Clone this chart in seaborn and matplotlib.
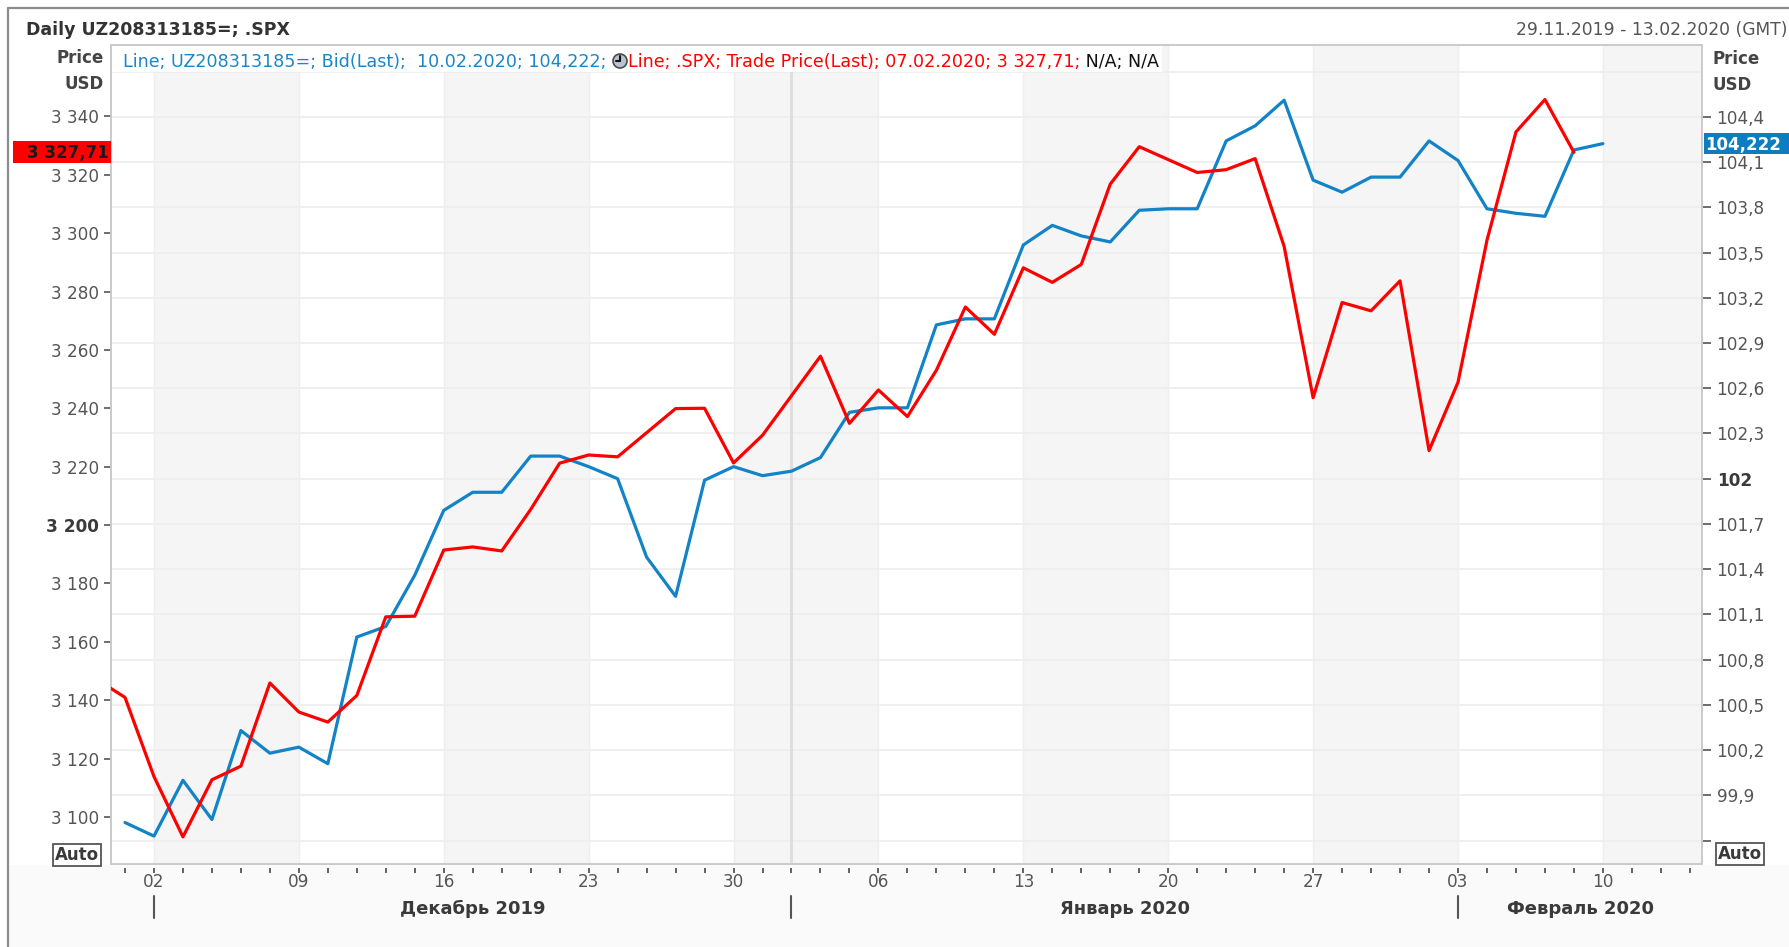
import numpy as np
import pandas as pd
import matplotlib
matplotlib.use("Agg")
import matplotlib.pyplot as plt
import seaborn as sns
from matplotlib.patches import Rectangle, Circle
from matplotlib.transforms import IdentityTransform, blended_transform_factory
from matplotlib.lines import Line2D

# ---------------- data ----------------
START_DATE = "2019-11-29"
RANGE_TEXT = "29.11.2019 - 13.02.2020 (GMT)"
TITLE = "Daily UZ208313185=; .SPX"

spx_dates = ["2019-11-27", "2019-11-29",
             "2019-12-02", "2019-12-03", "2019-12-04", "2019-12-05", "2019-12-06",
             "2019-12-09", "2019-12-10", "2019-12-11", "2019-12-12", "2019-12-13",
             "2019-12-16", "2019-12-17", "2019-12-18", "2019-12-19", "2019-12-20",
             "2019-12-23", "2019-12-24", "2019-12-26", "2019-12-27",
             "2019-12-30", "2019-12-31", "2020-01-02", "2020-01-03",
             "2020-01-06", "2020-01-07", "2020-01-08", "2020-01-09", "2020-01-10",
             "2020-01-13", "2020-01-14", "2020-01-15", "2020-01-16", "2020-01-17",
             "2020-01-21", "2020-01-22", "2020-01-23", "2020-01-24",
             "2020-01-27", "2020-01-28", "2020-01-29", "2020-01-30", "2020-01-31",
             "2020-02-03", "2020-02-04", "2020-02-05", "2020-02-06", "2020-02-07"]
spx_close = [3153.63, 3140.98,
             3113.87, 3093.20, 3112.76, 3117.43, 3145.91,
             3135.96, 3132.52, 3141.63, 3168.57, 3168.80,
             3191.45, 3192.52, 3191.14, 3205.37, 3221.22,
             3224.01, 3223.38, 3239.91, 3240.02,
             3221.29, 3230.78, 3257.85, 3234.85,
             3246.28, 3237.18, 3253.05, 3274.70, 3265.35,
             3288.13, 3283.15, 3289.29, 3316.81, 3329.62,
             3320.79, 3321.75, 3325.54, 3295.47,
             3243.63, 3276.24, 3273.40, 3283.66, 3225.52,
             3248.92, 3297.59, 3334.69, 3345.78, 3327.71]

bond_dates = list(pd.bdate_range("2019-11-29", "2020-02-10").strftime("%Y-%m-%d"))
bond_bid = [99.72, 99.63, 100.00, 99.74, 100.33, 100.18, 100.22, 100.11, 100.95, 101.02,
            101.36, 101.79, 101.91, 101.91, 102.15, 102.15, 102.08, 102.00, 101.48, 101.22,
            101.99, 102.08, 102.02, 102.05, 102.14, 102.44, 102.47, 102.47, 103.02, 103.06,
            103.06, 103.55, 103.68, 103.61, 103.57, 103.78, 103.79, 103.79, 104.24, 104.34,
            104.51, 103.98, 103.90, 104.00, 104.00, 104.24, 104.11, 103.79, 103.76, 103.74,
            104.18, 104.222]

left_ticks = [3100, 3120, 3140, 3160, 3180, 3200, 3220, 3240, 3260, 3280, 3300, 3320, 3340]
right_ticks = [99.6, 99.9, 100.2, 100.5, 100.8, 101.1, 101.4, 101.7, 102.0, 102.3,
               102.6, 102.9, 103.2, 103.5, 103.8, 104.1, 104.4]
grid_levels = right_ticks + [104.7]
monday_ticks = ["2019-12-02", "2019-12-09", "2019-12-16", "2019-12-23", "2019-12-30",
                "2020-01-06", "2020-01-13", "2020-01-20", "2020-01-27", "2020-02-03",
                "2020-02-10"]
shaded_weeks = ["2019-12-02", "2019-12-16", "2019-12-30", "2020-01-13", "2020-01-27",
                "2020-02-10"]
month_names = ["Декабрь 2019", "Январь 2020", "Февраль 2020"]
month_starts = ["2019-12-02", "2020-01-01", "2020-02-03"]
N_WEEKDAYS = 55  # 29.11.2019 .. 13.02.2020

# ---------------- style ----------------
W, H, DPI = 1789, 947, 100
BLUE = "#1183c6"
RED = "#ff0000"
TXT = "#555555"
DARK = "#3a3a3a"
FS = 12.2

sns.set_style("white")
plt.rcParams["font.family"] = ["DejaVu Sans"]


def idx(d):
    return int(np.busday_count(START_DATE, d))


def fmt_left(v):
    return f"{v:,.0f}".replace(",", " ")


def fmt_right(v):
    if abs(v - round(v)) < 1e-9:
        return str(int(round(v)))
    return f"{v:.1f}".replace(".", ",")


spx_df = pd.DataFrame({"x": [idx(d) for d in spx_dates], "price": spx_close})
bond_df = pd.DataFrame({"x": [idx(d) for d in bond_dates], "bid": bond_bid})

fig = plt.figure(figsize=(W / DPI, H / DPI), dpi=DPI)
fig.patch.set_facecolor("white")

L, R, T, B = 110.7, 1702.3, 45.0, 864.3
ax = fig.add_axes([L / W, 1 - B / H, (R - L) / W, (B - T) / H])
ax2 = ax.twinx()
ax.set_zorder(2)
ax2.set_zorder(1)
ax.patch.set_visible(False)
ax2.patch.set_facecolor("white")

XL = (-0.493, 54.43)
ax.set_xlim(*XL)
ax.set_ylim(3083.8, 3364.46)
ax2.set_ylim(99.443, 104.876)

# background week bands, grid
for m in shaded_weeks:
    s = idx(m)
    ax2.axvspan(s, min(s + 5, XL[1]), color="#f5f5f5", lw=0, zorder=0)
for m in monday_ticks:
    ax2.axvline(idx(m), color="#eeeeee", lw=1.0, zorder=0.5)
for g in grid_levels:
    ax2.axhline(g, color="#eeeeee", lw=1.3, zorder=0.6)
ax2.axvline(idx(month_starts[1]), color="#dddddd", lw=2.0, zorder=0.7)

# lines
sns.lineplot(data=bond_df, x="x", y="bid", ax=ax2, color=BLUE, lw=2.3,
             estimator=None, legend=False, zorder=3)
sns.lineplot(data=spx_df, x="x", y="price", ax=ax, color=RED, lw=2.3,
             estimator=None, legend=False, zorder=3)
for a in (ax, ax2):
    a.set_xlabel("")
    a.set_ylabel("")
    for sp in a.spines.values():
        sp.set_color("#cbcbcb")
        sp.set_linewidth(1.3)

# y ticks
ax.set_yticks(left_ticks)
ax.set_yticklabels([fmt_left(v) for v in left_ticks])
ax.tick_params(axis="y", which="major", left=True, length=5, width=1.2, color="#555555",
               pad=3.2, labelsize=FS, labelcolor=TXT)
for lab, v in zip(ax.get_yticklabels(), left_ticks):
    if v == 3200:
        lab.set_fontweight("bold")
        lab.set_color(DARK)

ax2.set_yticks(right_ticks)
ax2.set_yticklabels(["" if i == 0 else fmt_right(v) for i, v in enumerate(right_ticks)])
ax2.tick_params(axis="y", which="major", right=True, length=6.3, width=1.2, color="#555555",
                pad=4.0, labelsize=FS, labelcolor=TXT)
for lab, v in zip(ax2.get_yticklabels(), right_ticks):
    if abs(v - 102.0) < 1e-9:
        lab.set_fontweight("bold")
        lab.set_color(DARK)

# x ticks: labels on Mondays, marks on every weekday (drawn offset below the frame)
mon_idx = [idx(d) for d in monday_ticks]
ax.set_xticks(mon_idx)
ax.set_xticklabels([pd.Timestamp(d).strftime("%d") for d in monday_ticks])
ax.tick_params(axis="x", which="major", bottom=True, length=0, pad=6.0,
               labelsize=FS, labelcolor=TXT)
ax2.tick_params(axis="x", which="both", bottom=False, labelbottom=False)
bt = blended_transform_factory(ax.transData, ax.transAxes)
ax_h = B - T


def ay(y_full):
    return (B - y_full) / ax_h


ax.vlines(list(range(N_WEEKDAYS)), ay(868.3), ay(873.0), transform=bt, colors="#555555",
          lw=1.3, clip_on=False)

# months
m_idx = [idx(d) for d in month_starts]
bounds = m_idx + [XL[1]]
MFS = 13.0
for i, name in enumerate(month_names):
    ax.add_line(Line2D([m_idx[i], m_idx[i]], [ay(896), ay(918)], transform=bt,
                       color="#555555", lw=1.5, clip_on=False))
    ax.text((bounds[i] + bounds[i + 1]) / 2, ay(907 + 0.36 * MFS * 1.389), name,
            transform=bt, ha="center", va="baseline", fontsize=MFS,
            fontweight="bold", color=DARK)

# ---------------- figure decorations ----------------
fig.add_artist(Rectangle((9, 0), W, H - 865, transform=IdentityTransform(),
                         facecolor="#fafafa", edgecolor="none", zorder=-5))
fig.add_artist(Line2D([8.3, 8.3], [0, H - 7.5], transform=IdentityTransform(),
                      color="#8c8c8c", lw=1.6, zorder=5))
fig.add_artist(Line2D([7.5, W], [H - 8.3, H - 8.3], transform=IdentityTransform(),
                      color="#8c8c8c", lw=1.6, zorder=5))


def ftext(x, yc, s, size, ha="left", **kw):
    base = yc + 0.365 * size * 1.389
    return fig.text(x / W, 1 - base / H, s, fontsize=size, ha=ha, va="baseline", **kw)


ftext(25.8, 29, TITLE, 12.5, fontweight="bold", color="#333333")
ftext(1787, 29, RANGE_TEXT, 12.3, ha="right", color=TXT)
ftext(103.3, 57.3, "Price", 12.0, ha="right", fontweight="bold", color="#444444")
ftext(103.3, 83.3, "USD", 12.0, ha="right", fontweight="bold", color="#444444")
ftext(1712.7, 57.5, "Price", 12.0, fontweight="bold", color="#444444")
ftext(1712.7, 84.0, "USD", 12.0, fontweight="bold", color="#444444")

# Auto boxes
for xc, yc in ((77, 854), (1740, 852.5)):
    ftext(xc, yc, "Auto", 12.0, ha="center", fontweight="bold", color=DARK, zorder=6,
          bbox=dict(boxstyle="square,pad=0.12", fc="white", ec="#555555", lw=1.3))

# legend row inside the plot
r = fig.canvas.get_renderer()
last_bond = bond_bid[-1]
last_spx = spx_close[-1]
seg1 = (f"Line; UZ208313185=; Bid(Last);  {pd.Timestamp(bond_dates[-1]).strftime('%d.%m.%Y')}; "
        f"{f'{last_bond:.3f}'.replace('.', ',')}; ")
spx_txt = f"{last_spx:,.2f}".replace(",", " ").replace(".", ",")
seg2 = f"Line; .SPX; Trade Price(Last); {pd.Timestamp(spx_dates[-1]).strftime('%d.%m.%Y')}; {spx_txt};"
seg3 = " N/A; N/A"
LS = 12.6
t1 = ftext(123, 61, seg1, LS, color="#1a86c8", zorder=7)
x1 = t1.get_window_extent(r).x1
cx = x1 + 8
cy = H - 61
t2 = ftext(cx + 7.5, 61, seg2, LS, color=RED, zorder=7)
x2 = t2.get_window_extent(r).x1
t3 = ftext(x2, 61, seg3, LS, color="#111111", zorder=7)
x3 = t3.get_window_extent(r).x1
fig.add_artist(Rectangle((L + 1, H - 71.5), x3 + 3 - L - 1, 71.5 - 46, transform=IdentityTransform(),
                         facecolor="white", edgecolor="none", zorder=4))
fig.add_artist(Circle((cx, cy), 7.0, transform=IdentityTransform(), facecolor="#b9c3cf",
                      edgecolor="#4a4a4a", lw=1.2, zorder=8))
fig.add_artist(Line2D([cx, cx], [cy, cy + 5.0], transform=IdentityTransform(), color="#111111",
                      lw=1.5, zorder=9))
fig.add_artist(Line2D([cx - 4.2, cx], [cy, cy], transform=IdentityTransform(), color="#111111",
                      lw=1.5, zorder=9))

# last-value labels on the axes
y_red = ax.transData.transform((0, last_spx))[1]
fig.add_artist(Rectangle((13, y_red - 10.8), 97.5, 21.6, transform=IdentityTransform(),
                         facecolor=RED, edgecolor="none", zorder=6))
ftext(108.5, H - y_red, spx_txt, 12.0, ha="right", fontweight="bold", color="#1a1a1a", zorder=7)

y_blue = ax2.transData.transform((0, last_bond))[1]
fig.add_artist(Rectangle((1703.5, y_blue - 10.6), W - 1703.5, 21.2, transform=IdentityTransform(),
                         facecolor="#0b7dc0", edgecolor="none", zorder=6))
ftext(1705.5, H - y_blue, f"{last_bond:.3f}".replace(".", ","), 12.0, fontweight="bold",
      color="white", zorder=7)

fig.savefig("out.png", dpi=DPI)
